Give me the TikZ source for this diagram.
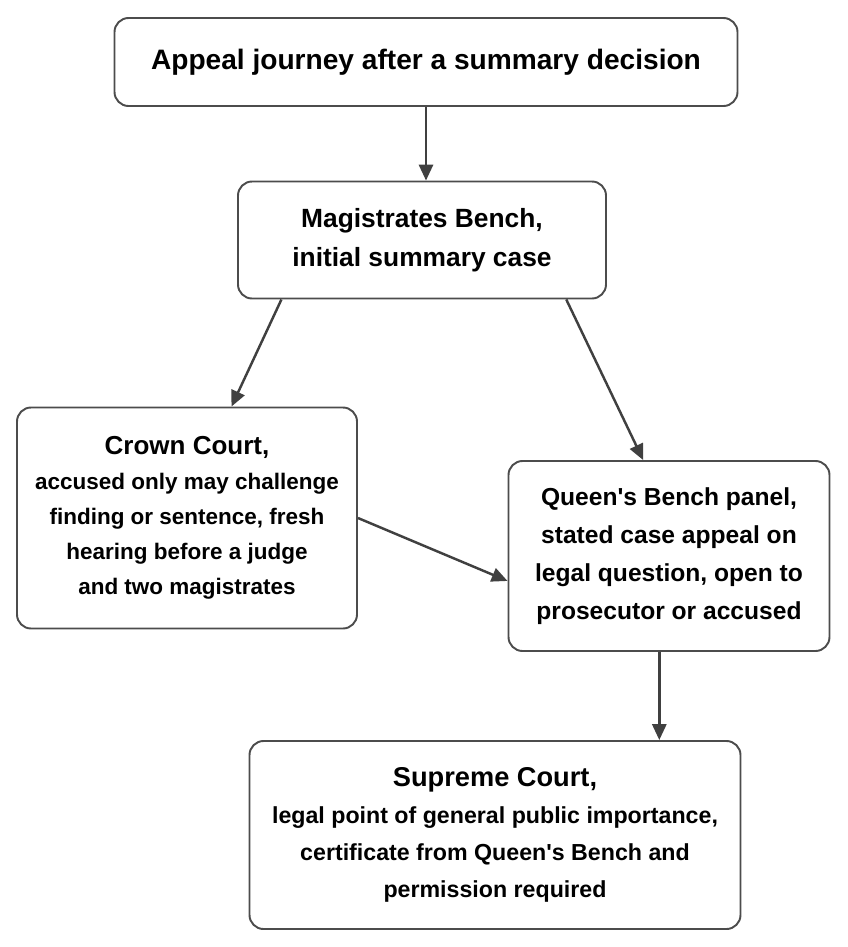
\documentclass[tikz,border=0pt]{standalone}
\usepackage{fontspec}
\setmainfont{Liberation Sans}
\usetikzlibrary{calc,arrows.meta}

\tikzset{
	box/.style={shape=rectangle,draw=black!70,fill=white,rounded corners=8pt,line width=1.1pt,
		align=center,font=\bfseries\fontsize{12.8}{20}\selectfont,inner sep=0pt},
	link/.style={-{Triangle[length=9pt,width=8pt]},draw=black!75,line width=1.4pt}
}

\begin{document}
\begin{tikzpicture}[x=0.02cm,y=-0.02cm]

		\useasboundingbox (0,0) rectangle (848,947);

		\node[box,minimum width=623*0.02cm,minimum height=88*0.02cm,font=\bfseries\fontsize{16}{20}\selectfont] (title) at (426, 62)  {Appeal journey after a summary decision};
		\node[box,minimum width=368*0.02cm,minimum height=117*0.02cm,font=\bfseries\fontsize{15}{22}\selectfont] (mag) at (422, 240)  {Magistrates Bench,\\initial summary case};
		\node[box,minimum width=340*0.02cm,minimum height=221*0.02cm] (crown) at (187, 518)  {{\fontsize{14.8}{20}\selectfont Crown Court,}\\accused only may challenge\\finding or sentence, fresh\\hearing before a judge\\and two magistrates};
		\node[box,minimum width=321*0.02cm,minimum height=190*0.02cm,font=\bfseries\fontsize{14}{21.5}\selectfont] (queen) at (669, 556)  {Queen\textquotesingle s Bench panel,\\stated case appeal on\\legal question, open to\\prosecutor or accused};
		\node[box,minimum width=491*0.02cm,minimum height=188*0.02cm,font=\bfseries\fontsize{13.2}{21}\selectfont] (sup) at (495, 835)  {{\fontsize{15.5}{21}\selectfont Supreme Court,}\\legal point of general public importance,\\certificate from Queen\textquotesingle s Bench and\\permission required};

		\draw[link] (title.south) -- (title.south |- mag.north);
		\draw[link] ($(mag.south west)!.12!(mag.south east)$) -- ($(crown.north west)!.63!(crown.north east)$);
		\draw[link] ($(mag.south west)!.89!(mag.south east)$) -- ($(queen.north west)!.42!(queen.north east)$);
		\draw[link] (crown.east) -- ($(queen.north west)!.63!(queen.south west)$);
		\draw[link] ($(queen.south west)!.47!(queen.south east)$) -- (sup.north -| {$(queen.south west)!.47!(queen.south east)$});

\end{tikzpicture}
\end{document}
